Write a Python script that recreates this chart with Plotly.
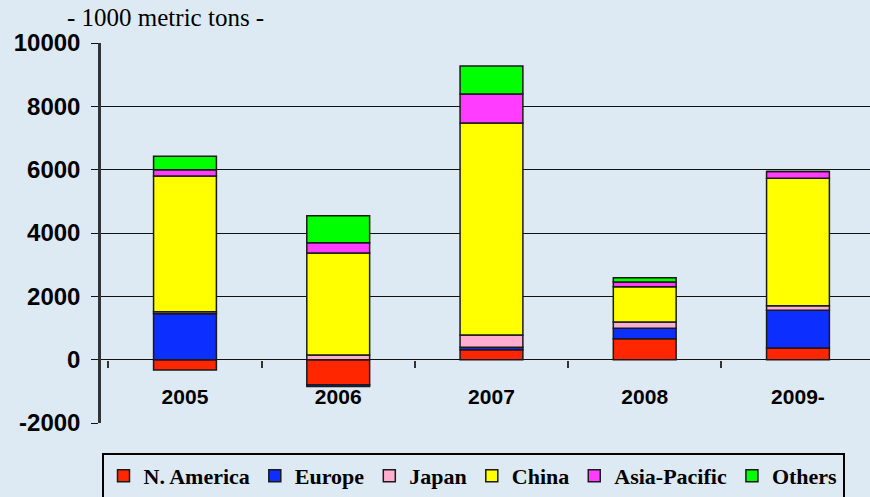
import plotly.graph_objects as go

years = ["2005", "2006", "2007", "2008", "2009-"]
n_america = [-330, -790, 310, 660, 370]
europe = [1450, -60, 80, 330, 1190]
japan = [60, 145, 390, 200, 140]
china = [4290, 3220, 6690, 1110, 4030]
asia_pacific = [200, 330, 920, 150, 210]
others = [420, 850, 880, 140, 0]

series_names = ["N. America", "Europe", "Japan", "China", "Asia-Pacific", "Others"]
series_values = [n_america, europe, japan, china, asia_pacific, others]
series_colors = ["#FF2600", "#0C2EFF", "#FFAED0", "#FFFF00", "#FF3CFF", "#00FF00"]

y_min, y_max, y_step = -2000, 10000, 2000
y_ticks = list(range(y_min, y_max + 1, y_step))
y_tick_labels = [str(v) for v in y_ticks]

BG = "#DDEAF3"
W, H = 870, 497
ML, MR, MT, MB = 101, 0, 43, 74

fig = go.Figure()
for name, vals, col in zip(series_names, series_values, series_colors):
    fig.add_trace(go.Bar(
        x=years, y=vals, name=name,
        marker=dict(color=col, line=dict(color="#1a1a1a", width=1.5)),
    ))

zero_pos = (0 - y_min) / (y_max - y_min)
plot_w = W - ML - MR
plot_h = H - MT - MB

fig.update_layout(
    width=W, height=H,
    margin=dict(l=ML, r=MR, t=MT, b=MB, pad=0, autoexpand=False),
    paper_bgcolor=BG, plot_bgcolor=BG,
    barmode="relative", bargap=0.59,
    showlegend=True,
    legend=dict(
        orientation="h",
        xref="container", yref="container",
        x=473 / W, xanchor="center",
        y=1 - 476 / H, yanchor="middle",
        bgcolor=BG, bordercolor="black", borderwidth=2,
        font=dict(family="Times New Roman, Liberation Serif, serif", size=22, color="black", weight="bold"),
        itemwidth=30, tracegroupgap=0,
    ),
    xaxis=dict(
        anchor="free", position=zero_pos,
        range=[-0.548, 4.47],
        showgrid=False, zeroline=False, showline=False,
        tickson="boundaries", ticks="outside", ticklen=7, tickwidth=2, tickcolor="#333333",
        ticklabelstandoff=22,
        tickfont=dict(family="Arial, Liberation Sans, sans-serif", size=21, color="black", weight="bold"),
    ),
    yaxis=dict(
        range=[y_min, y_max], tickvals=y_ticks, ticktext=y_tick_labels,
        showgrid=True, gridcolor="#111111", gridwidth=1.3,
        zeroline=True, zerolinecolor="#111111", zerolinewidth=1.3,
        showline=True, linecolor="#333333", linewidth=2.5,
        ticks="outside", ticklen=7, tickcolor="#111111", tickwidth=1.3,
        ticklabelstandoff=6,
        tickfont=dict(family="Arial, Liberation Sans, sans-serif", size=24, color="black", weight="bold"),
    ),
    annotations=[dict(
        text="- 1000 metric tons -", xref="paper", yref="paper",
        x=(165 - ML) / plot_w, y=1 + (MT - 17) / plot_h,
        xanchor="center", yanchor="middle", showarrow=False,
        font=dict(family="Times New Roman, Liberation Serif, serif", size=25, color="black"),
    )],
)

fig.write_html(
    "out.html",
    config={"displayModeBar": False},
    post_script="document.body.style.margin='0';document.body.style.overflow='hidden';document.body.style.background='#DDEAF3';",
)
